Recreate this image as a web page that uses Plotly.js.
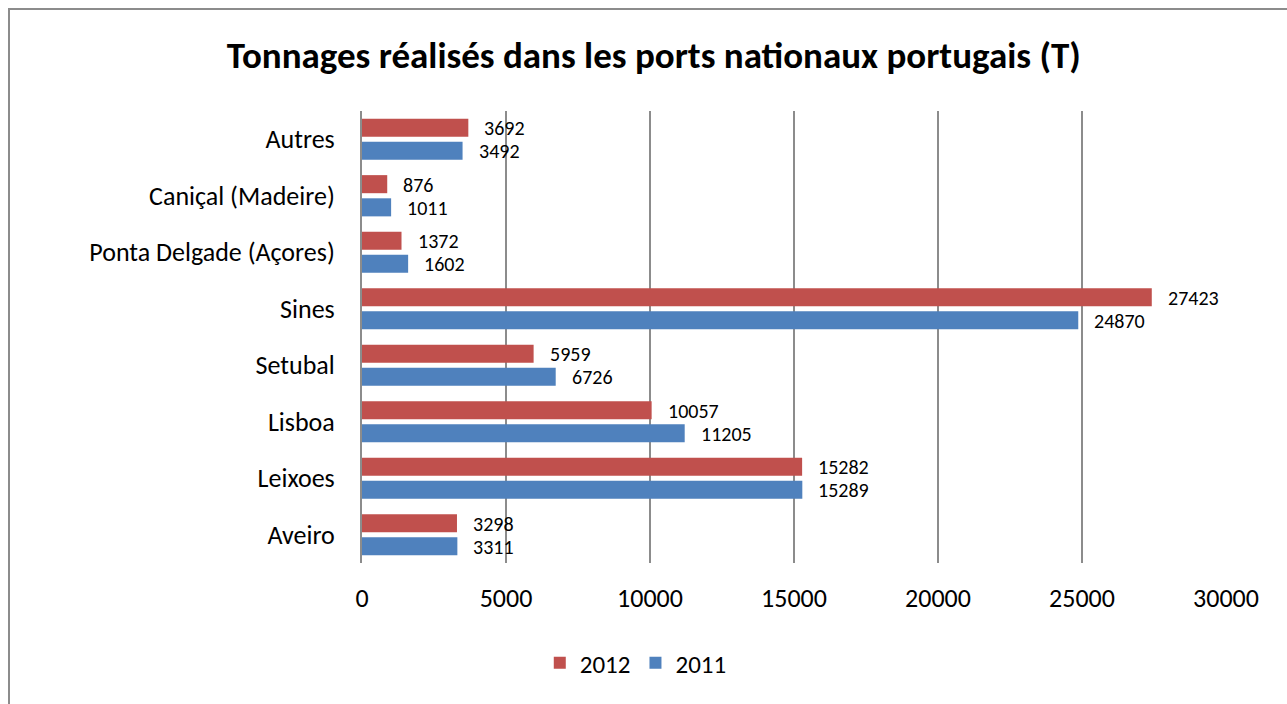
<!DOCTYPE html>
<html>
<head>
<meta charset="utf-8">
<script src="https://cdn.plot.ly/plotly-3.0.1.min.js"></script>
<style>
html,body{margin:0;padding:0;overflow:hidden;background:#fff;width:1287px;height:704px;}
#chart{position:absolute;left:0;top:0;width:1287px;height:704px;}
#frame{position:absolute;left:8px;top:8px;width:1300px;height:720px;border:2px solid #8c8c8c;pointer-events:none;box-sizing:border-box;}
</style>
</head>
<body>
<div id="chart"></div>
<div id="frame"></div>
<script>
const categories = ["Aveiro", "Leixoes", "Lisboa", "Setubal", "Sines", "Ponta Delgade (Açores)", "Caniçal (Madeire)", "Autres"];
const values2011 = [3311, 15289, 11205, 6726, 24870, 1602, 1011, 3492];
const values2012 = [3298, 15282, 10057, 5959, 27423, 1372, 876, 3692];
const xTicks = [0, 5000, 10000, 15000, 20000, 25000, 30000];

const FONT = "Carlito, Lato, 'Open Sans', sans-serif";

const traces = [
  {type: "bar", orientation: "h", name: "2011", y: categories, x: values2011,
   marker: {color: "#4F81BD"}, hoverinfo: "x+y"},
  {type: "bar", orientation: "h", name: "2012", y: categories, x: values2012,
   marker: {color: "#C0504D"}, hoverinfo: "x+y"}
];

const annotations = [];
categories.forEach((c, i) => {
  annotations.push({x: values2012[i], y: c, text: String(values2012[i]), showarrow: false,
    xanchor: "left", yanchor: "middle", xshift: 14, yshift: 11,
    font: {family: FONT, size: 20, color: "#000"}});
  annotations.push({x: values2011[i], y: c, text: String(values2011[i]), showarrow: false,
    xanchor: "left", yanchor: "middle", xshift: 14, yshift: -12,
    font: {family: FONT, size: 20, color: "#000"}});
});

const layout = {
  width: 1287, height: 704,
  margin: {l: 362, r: 61, t: 111, b: 141},
  paper_bgcolor: "rgba(0,0,0,0)", plot_bgcolor: "#fff",
  font: {family: FONT, color: "#000"},
  title: {text: "<b>Tonnages réalisés dans les ports nationaux portugais (T)</b>",
          font: {family: FONT, size: 37, color: "#000"},
          x: 0.508, xanchor: "center", y: 1 - 55/704, yanchor: "middle", xref: "container", yref: "container"},
  barmode: "group", bargap: 0.18, bargroupgap: 0.22,
  xaxis: {range: [0, 30000], tickvals: xTicks, ticktext: xTicks.map(String),
          showgrid: true, gridcolor: "#8c8c8c", gridwidth: 2, zeroline: false,
          showline: false, ticks: "", ticklabelstandoff: 17,
          tickfont: {family: FONT, size: 26, color: "#000"}, fixedrange: true},
  yaxis: {type: "category", categoryorder: "array", categoryarray: categories,
          showgrid: false, zeroline: false, showline: true, linecolor: "#8c8c8c", linewidth: 2,
          ticks: "", ticklabelstandoff: 20,
          tickfont: {family: FONT, size: 26, color: "#000"}, fixedrange: true},
  showlegend: true,
  legend: {orientation: "h", traceorder: "reversed", xref: "container", yref: "container",
           x: 0.494, xanchor: "center", y: 1 - 663/704, yanchor: "middle",
           font: {family: FONT, size: 25, color: "#000"}, itemwidth: 30},
  annotations: annotations
};

Plotly.newPlot("chart", traces, layout, {displayModeBar: false, staticPlot: true});
</script>
</body>
</html>
